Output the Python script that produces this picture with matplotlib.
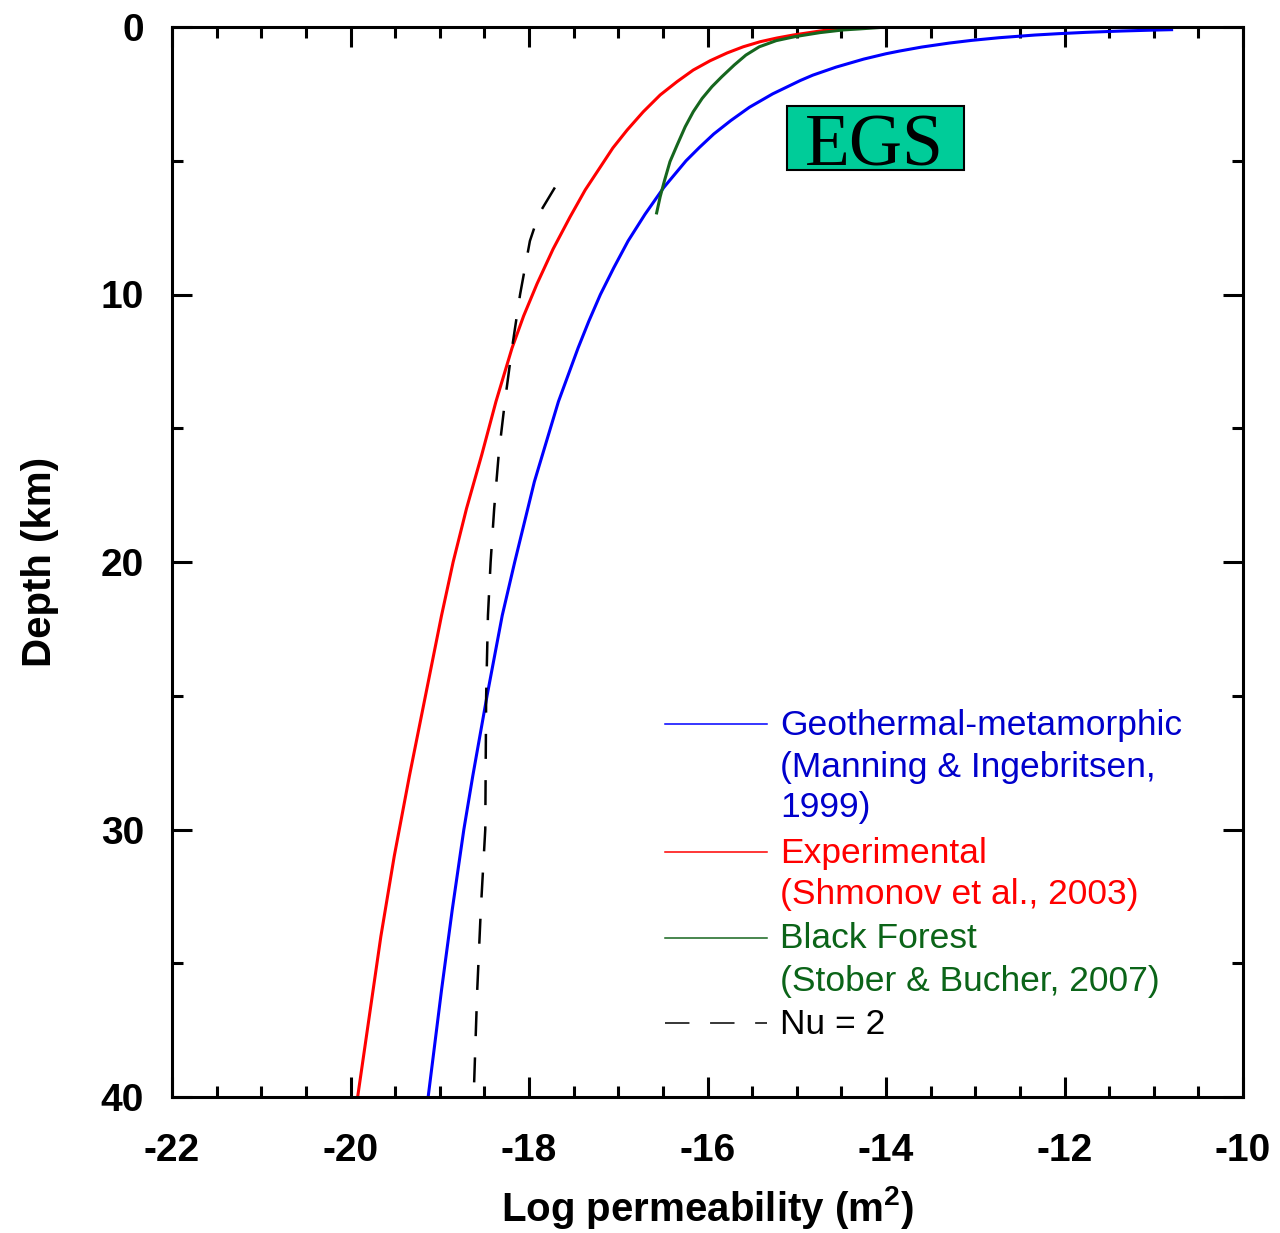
import matplotlib
matplotlib.use("Agg")
import matplotlib.pyplot as plt
from matplotlib.patches import Rectangle

plt.rcParams["mathtext.fontset"] = "custom"
plt.rcParams["mathtext.rm"] = "Liberation Sans"
plt.rcParams["mathtext.bf"] = "Liberation Sans:bold"

# Permeability-depth profiles (depth in km, log10 permeability in m^2)
geo_depth = [0.1, 0.12, 0.15, 0.2, 0.25, 0.3, 0.4, 0.5, 0.6, 0.75, 0.9, 1.0,
             1.2, 1.5, 1.8, 2.0, 2.5, 3.0, 3.5, 4.0, 4.5, 5.0, 6.0, 7.0, 8.0,
             9.0, 10.0, 11.0, 12.0, 13.0, 14.0, 15.0, 17.0, 20.0, 22.0, 25.0,
             28.0, 30.0, 33.0, 36.0, 40.0]
geo_logk = [-10.80, -11.05, -11.36, -11.76, -12.07, -12.33, -12.73, -13.04,
            -13.29, -13.60, -13.85, -14.00, -14.25, -14.56, -14.82, -14.96,
            -15.27, -15.53, -15.74, -15.93, -16.09, -16.24, -16.49, -16.70,
            -16.89, -17.05, -17.20, -17.33, -17.45, -17.56, -17.67, -17.76,
            -17.94, -18.16, -18.30, -18.47, -18.63, -18.73, -18.86, -18.98,
            -19.13]

exp_depth = [0.05, 0.15, 0.30, 0.41, 0.55, 0.74, 0.97, 1.26, 1.61, 2.04, 2.54,
             3.17, 3.85, 4.52, 5.23, 6.09, 7.10, 8.3, 9.6, 10.8, 12.0, 14.0,
             16.0, 18.0, 20.0, 22.0, 25.0, 28.0, 31.0, 34.0, 37.0, 40.0]
exp_logk = [-14.52, -14.74, -15.04, -15.22, -15.41, -15.60, -15.78, -15.97,
            -16.16, -16.34, -16.53, -16.72, -16.90, -17.06, -17.20, -17.37,
            -17.54, -17.73, -17.91, -18.06, -18.19, -18.37, -18.53, -18.70,
            -18.85, -18.98, -19.16, -19.34, -19.51, -19.66, -19.79, -19.92]

bf_depth = [0.01, 0.07, 0.11, 0.21, 0.36, 0.51, 0.74, 1.05, 1.42, 1.86, 2.23,
            2.67, 3.17, 3.73, 4.41, 5.03, 5.72, 6.34, 6.95]
bf_logk = [-14.03, -14.29, -14.48, -14.74, -15.02, -15.23, -15.42, -15.57,
           -15.70, -15.84, -15.95, -16.06, -16.16, -16.25, -16.34, -16.42,
           -16.48, -16.53, -16.57]

nu_depth = [6.0, 7.0, 8.0, 10.0, 12.0, 14.0, 16.0, 18.0, 20.0, 22.0, 25.0,
            30.0, 33.0, 36.0, 40.0]
nu_logk = [-17.71, -17.89, -17.99, -18.10, -18.19, -18.27, -18.34, -18.39,
           -18.43, -18.46, -18.48, -18.49, -18.54, -18.58, -18.62]

x_ticks = [-22, -20, -18, -16, -14, -12, -10]
y_ticks = [0, 10, 20, 30, 40]

BLUE = "#0000FF"
RED = "#FF0000"
GREEN = "#16661E"
BLUE_TXT = "#0000CC"
GREEN_TXT = "#0B6418"

W, H = 1280, 1233
fig = plt.figure(figsize=(W / 100, H / 100), dpi=100)
ax = fig.add_axes([172 / W, 1 - 1097 / H, (1243 - 172) / W, (1097 - 27) / H])

lw = 2.2
ax.plot(geo_logk, geo_depth, color=BLUE, lw=lw, solid_joinstyle="round")
ax.plot(exp_logk, exp_depth, color=RED, lw=lw, solid_joinstyle="round")
ax.plot(bf_logk, bf_depth, color=GREEN, lw=lw, solid_joinstyle="round")
ax.plot(nu_logk, nu_depth, color="black", lw=1.8, linestyle=(0, (10, 8.5)))

ax.set_xlim(-22, -10)
ax.set_ylim(40, 0)
ax.set_xticks(x_ticks)
ax.set_xticks([v / 2 for v in range(-44, -19)], minor=True)
ax.set_yticks(y_ticks)
ax.set_yticks([5, 15, 25, 35], minor=True)
ax.set_xticklabels([str(v) for v in x_ticks])
ax.set_yticklabels([str(v) for v in y_ticks])

for s in ax.spines.values():
    s.set_linewidth(2.2)

ax.tick_params(which="both", direction="in", top=True, right=True, width=2.2)
ax.tick_params(which="major", length=14.5)
ax.tick_params(which="minor", length=8)
ax.tick_params(axis="x", which="major", pad=26)
ax.tick_params(axis="y", which="major", pad=20)
for lab in ax.get_xticklabels() + ax.get_yticklabels():
    lab.set_fontfamily("Liberation Sans")
    lab.set_fontweight("bold")
    lab.set_fontsize(28)

ax.set_xlabel(r"Log permeability (m$^{\mathbf{2}}$)", fontfamily="Liberation Sans",
              fontweight="bold", fontsize=29, labelpad=11)
ax.set_ylabel("Depth (km)", fontfamily="Liberation Sans",
              fontweight="bold", fontsize=29, labelpad=30)

# EGS label box
ax.add_patch(Rectangle((0.574, 0.8664), 0.1655, 0.060, transform=ax.transAxes,
                       facecolor="#00CC99", edgecolor="black", lw=1.5, zorder=5))
ax.text(0.6555, 0.871, "EGS", transform=ax.transAxes, ha="center", va="baseline",
        fontfamily="Liberation Serif", fontsize=53, color="black", zorder=6)

# Legend entries
def px(x, y):
    return (x - 172) / 1071, 1 - (y - 27) / 1070

legend = [
    (BLUE, "-", 724, [("Geothermal-metamorphic", 725),
                      ("(Manning & Ingebritsen,", 768),
                      ("1999)", 808)], BLUE_TXT),
    (RED, "-", 852, [("Experimental", 853), ("(Shmonov et al., 2003)", 895)], RED),
    (GREEN, "-", 938, [("Black Forest", 939), ("(Stober & Bucher, 2007)", 982)],
     GREEN_TXT),
    ("black", (0, (16, 13.5)), 1023, [("Nu = 2", 1025)], "black"),
]
for col, ls, ly, lines, tcol in legend:
    x0, y0 = px(665, ly)
    x1, _ = px(767, ly)
    ax.plot([x0, x1], [y0, y0], color=col, lw=1.1, linestyle=ls,
            transform=ax.transAxes, clip_on=False)
    for txt, ty in lines:
        tx, tyy = px(780, ty)
        ax.text(tx, tyy, txt, transform=ax.transAxes, ha="left", va="center",
                fontfamily="Liberation Sans", fontsize=25.5, color=tcol)

fig.savefig("out.png", dpi=100)
